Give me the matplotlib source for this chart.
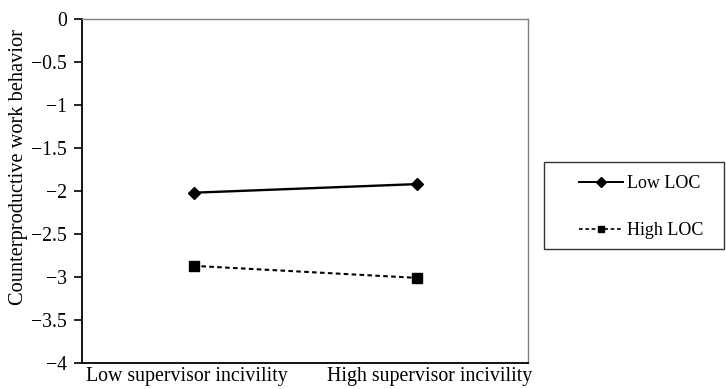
import matplotlib.pyplot as plt
import matplotlib.transforms as mtransforms
from matplotlib.lines import Line2D
from matplotlib.patches import Rectangle

plt.rcParams['font.family'] = ['Liberation Serif', 'DejaVu Serif']

categories = ['Low supervisor incivility', 'High supervisor incivility']
low_loc = [-2.02, -1.92]
high_loc = [-2.87, -3.01]
yticks = [0, -0.5, -1, -1.5, -2, -2.5, -3, -3.5, -4]

fig = plt.figure(figsize=(7.26, 3.89), dpi=100)
ax = fig.add_axes([82 / 726, 1 - 363 / 389, (528 - 82) / 726, (363 - 19) / 389])

x = range(len(categories))
ax.plot(x, low_loc, color='black', lw=1.7, marker='D', ms=6.5, label='Low LOC')
ax.plot(x, high_loc, color='black', lw=1.5, ls=(0, (2.2, 1.6)), marker='s', ms=6.5,
        label='High LOC')

ax.set_xlim(-0.5, 1.5)
ax.set_ylim(-4, 0)
ax.set_yticks(yticks)
ax.set_yticklabels(['0' if v == 0 else '\u2212' + format(abs(v), 'g') for v in yticks])
ax.set_xticks(list(x))
ax.set_xticklabels(categories)
ax.tick_params(axis='x', length=0, pad=3, labelsize=14.3)
ax.tick_params(axis='y', direction='out', length=6, width=1.2, labelsize=14.2, pad=5)
ax.set_ylabel('Counterproductive work behavior', fontsize=14.7)
ax.yaxis.set_label_coords(-0.12, 0.57)

# category labels sit a little wider apart than the points in the original
for lbl, dx in zip(ax.get_xticklabels(), [-7, 13]):
    lbl.set_transform(lbl.get_transform() +
                      mtransforms.ScaledTranslation(dx / 100, 0, fig.dpi_scale_trans))

for side in ['top', 'right']:
    ax.spines[side].set_color('#7f7f7f')
    ax.spines[side].set_linewidth(1.0)
for side in ['left', 'bottom']:
    ax.spines[side].set_color('black')
    ax.spines[side].set_linewidth(1.3)

handles = [
    Line2D([], [], color='black', lw=1.4, marker='D', ms=5),
    Line2D([], [], color='black', lw=1.2, ls=(0, (2.2, 1.6)), marker='s', ms=5),
]
fig.legend(handles, ['Low LOC', 'High LOC'], loc='center left',
           bbox_to_anchor=(579 / 726, 1 - 207 / 389), fontsize=13,
           frameon=False, handlelength=2.45, handletextpad=0.22,
           labelspacing=1.67, borderpad=0, borderaxespad=0)
fig.patches.append(Rectangle((544 / 726, 1 - 249 / 389), 180 / 726, 87 / 389,
                             transform=fig.transFigure, fill=False,
                             edgecolor='#333333', lw=1.0))

fig.savefig('out.png', dpi=100)
